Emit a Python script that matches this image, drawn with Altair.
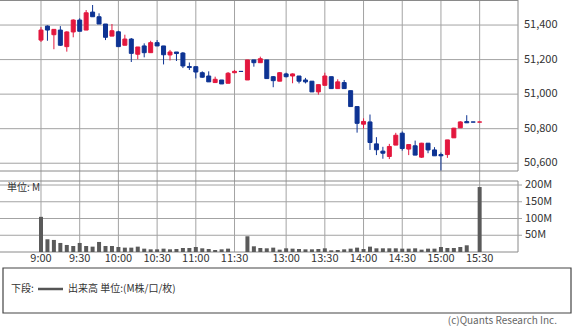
import altair as alt
import pandas as pd

FONT = "Noto Sans CJK JP"

# ---- data (5-minute bars, index 0 = 9:00) ----
idx = list(range(69))
opens = [51313, 51394, 51344, 51371, 51275, 51360, 51429, 51371, 51475, 51448,
         51406, 51336, 51361, 51283, 51319, 51231, 51279, 51240, 51298, 51279,
         51227, 51244, 51238, 51160, 51159, 51124, 51105, 51067, 51082, 51063,
         51124, 51132, 51082, 51198, 51182, 51198, 51101, 51075, 51117, 51105,
         51105, 51082, 51075, 51013, 51051, 51101, 51032, 51067, 51020, 50928,
         50826, 50839, 50712, 50670, 50639, 50705, 50774, 50682, 50701, 50635,
         50716, 50677, 50650, 50650, 50747, 50805, 50841, 50839, 50838]
highs = [51388, 51398, 51375, 51394, 51364, 51433, 51439, 51487, 51516, 51468,
         51406, 51406, 51367, 51344, 51325, 51273, 51294, 51309, 51313, 51279,
         51256, 51244, 51244, 51183, 51159, 51132, 51132, 51101, 51082, 51128,
         51140, 51132, 51198, 51198, 51217, 51198, 51105, 51128, 51124, 51120,
         51105, 51094, 51075, 51055, 51124, 51101, 51086, 51082, 51020, 50928,
         50860, 50882, 50751, 50695, 50712, 50776, 50784, 50708, 50731, 50718,
         50716, 50693, 50662, 50735, 50805, 50843, 50878, 50839, 50839]
lows = [51302, 51309, 51260, 51279, 51246, 51329, 51364, 51371, 51448, 51406,
        51313, 51336, 51275, 51283, 51186, 51202, 51213, 51240, 51279, 51172,
        51195, 51192, 51151, 51140, 51091, 51095, 51071, 51067, 51059, 51063,
        51121, 51131, 51082, 51159, 51182, 51090, 51040, 51075, 51097, 51063,
        51062, 51062, 51013, 50997, 51051, 51032, 51032, 51032, 50928, 50777,
        50800, 50677, 50647, 50626, 50624, 50705, 50673, 50647, 50647, 50631,
        50658, 50643, 50558, 50631, 50747, 50805, 50834, 50838, 50838]
closes = [51371, 51371, 51375, 51283, 51360, 51429, 51364, 51471, 51448, 51406,
          51329, 51367, 51275, 51319, 51236, 51273, 51240, 51298, 51279, 51228,
          51244, 51235, 51163, 51154, 51128, 51098, 51071, 51086, 51059, 51121,
          51132, 51131, 51198, 51182, 51205, 51090, 51078, 51124, 51101, 51117,
          51075, 51071, 51013, 51055, 51105, 51032, 51071, 51032, 50928, 50831,
          50842, 50720, 50678, 50658, 50697, 50762, 50685, 50708, 50647, 50716,
          50677, 50643, 50643, 50735, 50803, 50839, 50834, 50838, 50839]
volumes = [105, 38, 36, 27, 21, 18, 27, 18, 16, 30,
           18, 18, 15, 13, 13, 16, 10, 8, 8, 10,
           8, 9, 12, 12, 15, 11, 9, 6, 8, 10,
           0, 0, 47, 17, 12, 11, 13, 7, 11, 10,
           9, 8, 8, 9, 11, 5, 6, 8, 10, 13,
           9, 16, 11, 11, 11, 11, 10, 10, 11, 7,
           10, 10, 15, 12, 12, 15, 20, 0, 194]

tick_idx = [0, 6, 12, 18, 24, 30, 38, 44, 50, 56, 62, 68]
tick_labels = ["9:00", "9:30", "10:00", "10:30", "11:00", "11:30",
               "13:00", "13:30", "14:00", "14:30", "15:00", "15:30"]
price_ticks = [50600, 50800, 51000, 51200, 51400]
price_labels = ["50,600", "50,800", "51,000", "51,200", "51,400"]
vol_ticks = [50, 100, 150, 200]
vol_labels = ["50M", "100M", "150M", "200M"]

UP, DOWN = "#e3173e", "#0d3393"
GRID = "#a3a3a3"
BORDER = "#8a8a8a"
W, H = 518, 252

df = pd.DataFrame({"i": idx, "open": opens, "high": highs, "low": lows,
                   "close": closes, "vol": volumes})
df["dir"] = ["up" if c >= o else "down" for o, c in zip(opens, closes)]

xscale = alt.Scale(domain=[-5.58, 73.17], range=[0, W], nice=False, zero=False)
pscale = alt.Scale(domain=[50555, 51545], range=[171, 0], nice=False, zero=False)
vscale = alt.Scale(domain=[0, 212], range=[252, 181], nice=False, zero=False)
cscale = alt.Scale(domain=["up", "down"], range=[UP, DOWN])

one = pd.DataFrame({"k": [0]})
xticks_df = pd.DataFrame({"i": tick_idx, "lab": tick_labels})
pticks_df = pd.DataFrame({"p": price_ticks, "lab": price_labels})
vticks_df = pd.DataFrame({"v": vol_ticks, "lab": vol_labels})

# vertical grid + x labels
vgrid = alt.Chart(xticks_df).mark_rule(color=GRID, strokeWidth=1).encode(
    x=alt.X("i:Q", scale=xscale, axis=None),
    y=alt.value(0), y2=alt.value(252))
xlabels = alt.Chart(xticks_df).mark_text(align="center", baseline="middle", fontSize=11,
                                         color="#333", font=FONT).encode(
    x=alt.X("i:Q", scale=xscale, axis=None),
    y=alt.value(259), text="lab:N")

# price panel
pgrid = alt.Chart(pticks_df).mark_rule(color=GRID, strokeWidth=1).encode(
    y=alt.Y("p:Q", scale=pscale, axis=None),
    x=alt.value(0), x2=alt.value(W))
plabels = alt.Chart(pticks_df).mark_text(align="left", baseline="middle", fontSize=11,
                                         color="#333", font=FONT).encode(
    y=alt.Y("p:Q", scale=pscale, axis=None),
    x=alt.value(524), text="lab:N")
wicks = alt.Chart(df).mark_rule(strokeWidth=1).encode(
    x=alt.X("i:Q", scale=xscale, axis=None),
    y=alt.Y("low:Q", scale=pscale, axis=None),
    y2="high:Q",
    color=alt.Color("dir:N", scale=cscale, legend=None))
bodies = alt.Chart(df).mark_bar(size=4, strokeWidth=1).encode(
    x=alt.X("i:Q", scale=xscale, axis=None),
    y=alt.Y("open:Q", scale=pscale, axis=None),
    y2="close:Q",
    color=alt.Color("dir:N", scale=cscale, legend=None),
    stroke=alt.Stroke("dir:N", scale=cscale, legend=None))
price_layer = alt.layer(pgrid, plabels, wicks, bodies)

# volume panel
vgrid_h = alt.Chart(vticks_df).mark_rule(color=GRID, strokeWidth=1).encode(
    y=alt.Y("v:Q", scale=vscale, axis=None),
    x=alt.value(0), x2=alt.value(W + 4))
vlabels = alt.Chart(vticks_df).mark_text(align="left", baseline="middle", fontSize=11,
                                         color="#333", font=FONT).encode(
    y=alt.Y("v:Q", scale=vscale, axis=None),
    x=alt.value(525), text="lab:N")
vbars = alt.Chart(df).mark_bar(size=4, color="#5a5a5a", orient="vertical").encode(
    x=alt.X("i:Q", scale=xscale, axis=None),
    y=alt.Y("vol:Q", scale=vscale, axis=None, stack=None))
vol_layer = alt.layer(vgrid_h, vlabels, vbars)

# panel borders
hborders = alt.Chart(pd.DataFrame({"y": [0.5, 171, 181, 252]})).mark_rule(
    color=BORDER, strokeWidth=1).encode(
    y=alt.Y("y:Q", scale=None), x=alt.value(0), x2=alt.value(W))
vb_top = alt.Chart(one).mark_rule(color=BORDER, strokeWidth=1).encode(
    x=alt.value(W), y=alt.value(0), y2=alt.value(171))
vb_bot = alt.Chart(one).mark_rule(color=BORDER, strokeWidth=1).encode(
    x=alt.value(W), y=alt.value(181), y2=alt.value(252))

unit = alt.Chart(one).mark_text(text="単位: M", align="left", baseline="middle",
                                fontSize=10, color="#333", font=FONT).encode(
    x=alt.value(7), y=alt.value(188))

# legend box
box = alt.Chart(one).mark_rect(fill="white", stroke="#444", strokeWidth=1.2).encode(
    x=alt.value(3), x2=alt.value(571), y=alt.value(268), y2=alt.value(313))
leg_label = alt.Chart(one).mark_text(text="下段:", align="left", baseline="middle",
                                     fontSize=10, color="#333", font=FONT).encode(
    x=alt.value(11), y=alt.value(289))
leg_line = alt.Chart(one).mark_rule(color="#555", strokeWidth=2.5).encode(
    x=alt.value(38), x2=alt.value(63), y=alt.value(289))
leg_text = alt.Chart(one).mark_text(text="出来高 単位:(M株/口/枚)", align="left",
                                    baseline="middle", fontSize=10, color="#333",
                                    font=FONT).encode(
    x=alt.value(68), y=alt.value(289))
copy = alt.Chart(one).mark_text(text="(c)Quants Research Inc.", align="right",
                                baseline="middle", fontSize=10, color="#666",
                                font=FONT).encode(
    x=alt.value(557), y=alt.value(321))

chart = alt.layer(
    vgrid, hborders, vb_top, vb_bot, xlabels, price_layer, vol_layer, unit,
    box, leg_label, leg_line, leg_text, copy
).resolve_scale(y="independent").properties(
    width=W, height=H,
    autosize=alt.AutoSizeParams(type="none"),
    padding={"left": 0, "top": 0, "right": 575 - W, "bottom": 326 - H},
    background="white",
).configure(font=FONT).configure_view(stroke=None)

chart.save("out.html", embed_options={"renderer": "svg", "actions": False})
